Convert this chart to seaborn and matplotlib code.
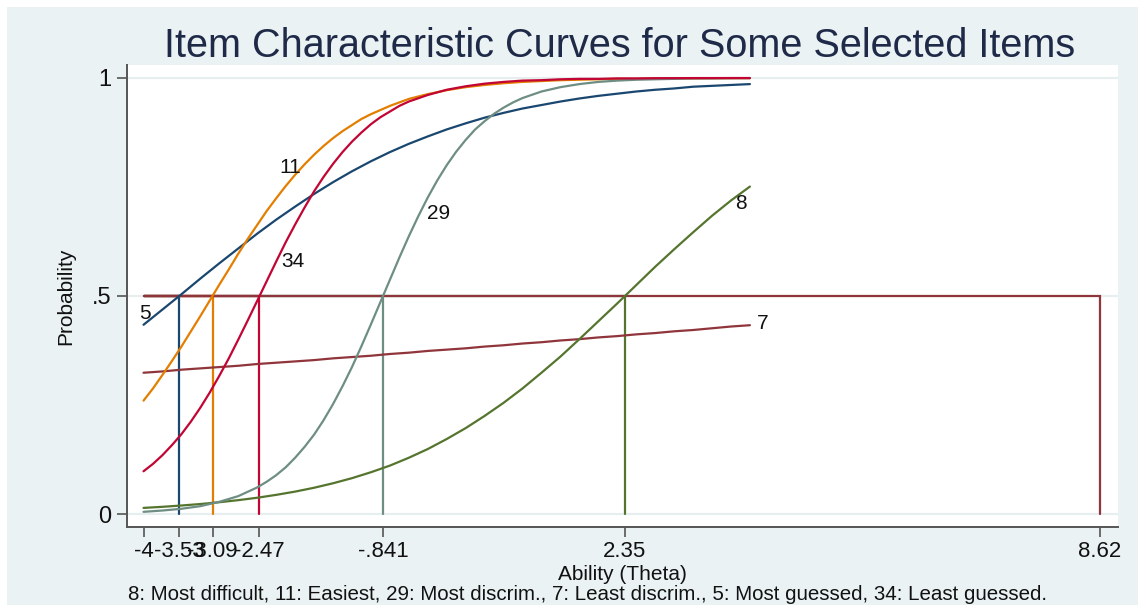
import numpy as np
import pandas as pd
import matplotlib
matplotlib.use("Agg")
import matplotlib.pyplot as plt
from matplotlib.patches import Rectangle
import seaborn as sns

# Ability grid shared by every item characteristic curve
theta = [-4.0, -3.75, -3.5, -3.25, -3.0, -2.75, -2.5, -2.25, -2.0, -1.75, -1.5,
         -1.25, -1.0, -0.75, -0.5, -0.25, 0.0, 0.25, 0.5, 0.75, 1.0, 1.25, 1.5,
         1.75, 2.0, 2.25, 2.5, 2.75, 3.0, 3.25, 3.5, 3.75, 4.0]

# Probability of a correct response for each selected item
p_item5 = [0.434, 0.469, 0.504, 0.540, 0.575, 0.609, 0.643, 0.675, 0.705, 0.734,
           0.761, 0.786, 0.809, 0.830, 0.849, 0.866, 0.882, 0.896, 0.909, 0.920,
           0.930, 0.938, 0.946, 0.953, 0.959, 0.964, 0.969, 0.973, 0.976, 0.980,
           0.982, 0.984, 0.986]
p_item7 = [0.324, 0.327, 0.331, 0.334, 0.337, 0.340, 0.344, 0.347, 0.350, 0.353,
           0.357, 0.360, 0.363, 0.367, 0.370, 0.374, 0.377, 0.380, 0.384, 0.387,
           0.391, 0.394, 0.398, 0.401, 0.405, 0.408, 0.412, 0.415, 0.419, 0.422,
           0.426, 0.430, 0.433]
p_item8 = [0.014, 0.0165, 0.0195, 0.0229, 0.027, 0.0318, 0.0373, 0.0439, 0.0514,
           0.0602, 0.0705, 0.0822, 0.0958, 0.111, 0.129, 0.149, 0.172, 0.197, 0.225,
           0.255, 0.288, 0.324, 0.361, 0.401, 0.442, 0.483, 0.525, 0.567, 0.607,
           0.646, 0.684, 0.719, 0.751]
p_item11 = [0.260, 0.319, 0.384, 0.454, 0.526, 0.597, 0.663, 0.724, 0.778, 0.824,
            0.862, 0.892, 0.917, 0.936, 0.952, 0.963, 0.972, 0.979, 0.984, 0.988,
            0.991, 0.993, 0.995, 0.996, 0.997, 0.998, 0.998, 0.999, 0.999, 0.999,
            0.9995, 0.9996, 0.9997]
p_item29 = [0.005, 0.008, 0.012, 0.018, 0.028, 0.041, 0.061, 0.089, 0.129, 0.182,
            0.252, 0.337, 0.435, 0.537, 0.637, 0.726, 0.800, 0.858, 0.901, 0.932,
            0.954, 0.969, 0.979, 0.986, 0.991, 0.994, 0.996, 0.997, 0.998, 0.999,
            0.999, 0.9995, 0.9997]
p_item34 = [0.098, 0.135, 0.183, 0.244, 0.317, 0.400, 0.489, 0.579, 0.664, 0.740,
            0.803, 0.854, 0.894, 0.923, 0.946, 0.961, 0.973, 0.981, 0.987, 0.991,
            0.994, 0.995, 0.997, 0.998, 0.998, 0.999, 0.999, 0.9995, 0.9996, 0.9998,
            0.9998, 0.9999, 0.9999]

# Extra readings where the steep curves bend most
theta_mid11 = [-3.875, -3.625, -3.375, -3.125, -2.875, -2.625, -2.375, -2.125,
               -1.875, -1.625, -1.375, -1.125]
p_mid11 = [0.288, 0.351, 0.419, 0.490, 0.561, 0.631, 0.695, 0.752, 0.802, 0.844,
           0.878, 0.906]
theta_mid29 = [-2.375, -2.125, -1.875, -1.625, -1.375, -1.125, -0.875, -0.625,
               -0.375, -0.125, 0.125, 0.375, 0.625, 0.875]
p_mid29 = [0.074, 0.107, 0.154, 0.215, 0.293, 0.385, 0.486, 0.588, 0.683, 0.765,
           0.831, 0.882, 0.918, 0.944]
theta_mid34 = [-3.875, -3.625, -3.375, -3.125, -2.875, -2.625, -2.375, -2.125,
               -1.875, -1.625, -1.375, -1.125, -0.875, -0.625]
p_mid34 = [0.115, 0.158, 0.212, 0.279, 0.357, 0.444, 0.534, 0.623, 0.703, 0.773,
           0.830, 0.875, 0.910, 0.936]

items = ["5", "7", "8", "11", "29", "34"]
curves = [p_item5, p_item7, p_item8, p_item11, p_item29, p_item34]
extra = {"11": (theta_mid11, p_mid11), "29": (theta_mid29, p_mid29),
         "34": (theta_mid34, p_mid34)}
# Ability at which each item reaches probability .5
half_point = [-3.53, 8.62, 2.35, -3.09, -0.841, -2.47]
tick_text = ["-4", "-3.53", "-3.09", "-2.47", "-.841", "2.35", "8.62"]
tick_vals = [-4, -3.53, -3.09, -2.47, -0.841, 2.35, 8.62]

colors = {"5": "#1a476f", "7": "#90353b", "8": "#55752f",
          "11": "#e37e00", "29": "#6e8e84", "34": "#c10534"}

frames = []
for it, p in zip(items, curves):
    frames.append(pd.DataFrame({"theta": theta, "prob": p, "item": it}))
    if it in extra:
        tx, px = extra[it]
        frames.append(pd.DataFrame({"theta": tx, "prob": px, "item": it}))
df = pd.concat(frames, ignore_index=True).sort_values(["item", "theta"])

sns.set_theme(style="white")
plt.rcParams["font.family"] = ["Liberation Sans", "DejaVu Sans"]

bg = "#eaf2f3"
fig = plt.figure(figsize=(11.38, 6.05), dpi=100, facecolor="white")
fig.patches.append(Rectangle((7 / 1138, 0), 1 - 7 / 1138, 1 - 7 / 605,
                             transform=fig.transFigure, facecolor=bg,
                             edgecolor="none", zorder=-10))
ax = fig.add_axes([127 / 1138, 1 - 527 / 605, (1118 - 127) / 1138, (527 - 65) / 605])
ax.set_zorder(2)
ax.set_facecolor("white")

# light horizontal grid at the labelled probabilities
for yv in [0, 0.5, 1]:
    ax.axhline(yv, color="#e6eef0", lw=1.6, zorder=1)

sns.lineplot(data=df, x="theta", y="prob", hue="item", palette=colors,
             hue_order=items, estimator=None, sort=True, legend=False,
             lw=1.6, ax=ax, zorder=3)

# drop lines to the ability where each curve crosses .5
order = ["5", "8", "11", "29", "34", "7"]
for it in order:
    b = half_point[items.index(it)]
    ax.plot([theta[0], b, b], [0.5, 0.5, 0.0], color=colors[it], lw=1.6,
            zorder=2, solid_joinstyle="miter")

# item labels along the curves
label_pos = {"5": (-3.98, 0.461), "11": (-2.07, 0.794), "34": (-2.03, 0.578),
             "29": (-0.11, 0.690), "8": (3.88, 0.713), "7": (4.17, 0.436)}
for it, (lx, ly) in label_pos.items():
    ax.text(lx, ly, it, fontsize=15, color="#111111", ha="center", va="center",
            zorder=4)

ax.set_xlim(-4.218, 8.856)
ax.set_ylim(-0.0298, 1.0298)
ax.set_xticks(tick_vals)
ax.set_xticklabels(tick_text)
ax.set_yticks([0, 0.5, 1])
ax.set_yticklabels(["0", ".5", "1"])
ax.tick_params(axis="both", which="major", length=7, width=1.2, color="#555555",
               labelsize=17, labelcolor="#111111", pad=4, direction="out",
               left=True, bottom=True)
ax.tick_params(axis="x", labelsize=16, pad=3)

for side in ["top", "right"]:
    ax.spines[side].set_visible(False)
for side in ["left", "bottom"]:
    ax.spines[side].set_color("#555555")
    ax.spines[side].set_linewidth(1.4)

ax.set_xlabel("Ability (Theta)", fontsize=15, color="#111111")
ax.xaxis.set_label_coords(0.5, -(575 - 527) / (527 - 65), transform=ax.transAxes)
ax.xaxis.label.set_va("center")
ax.set_ylabel("Probability", fontsize=15, color="#111111", labelpad=12)

fig.text(620 / 1138, 1 - 46 / 605,
         "Item Characteristic Curves for Some Selected Items",
         fontsize=28.5, color="#1e2a48", ha="center", va="center")
fig.text(587 / 1138, 1 - 595 / 605,
         "8: Most difficult, 11: Easiest, 29: Most discrim., 7: Least discrim., "
         "5: Most guessed, 34: Least guessed.",
         fontsize=14.8, color="#111111", ha="center", va="center")

fig.savefig("out.png", dpi=100, facecolor=fig.get_facecolor())
